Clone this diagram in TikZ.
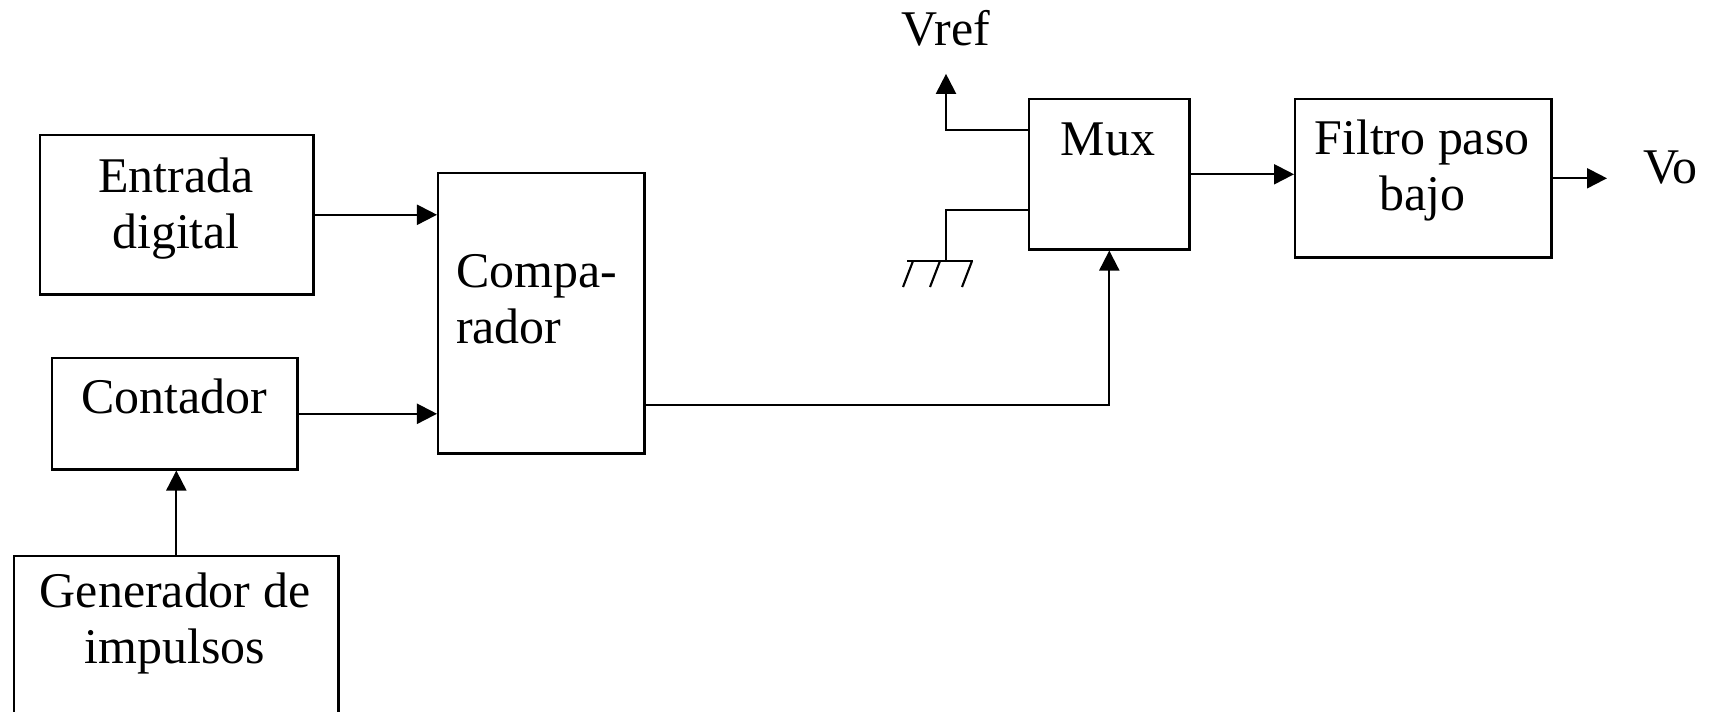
\documentclass[tikz,border=0pt]{standalone}
\usepackage{fontspec}
\setmainfont{Liberation Serif}
\usetikzlibrary{arrows.meta}

\begin{document}
\begin{tikzpicture}[x=0.01cm, y=-0.01cm, line width=0.6pt,
        blk/.style={draw, rectangle, line width=0.7pt, inner sep=0pt, anchor=north west},
        txt/.style={font=\fontsize{14.2}{15.8}\selectfont, inner sep=0pt, anchor=base, align=center},
        conn/.style={-{Triangle[length=0.2cm, width=0.2cm]}}]
        % Frame
        \clip (0,0) rectangle (1713,711);

        % Blocks
        \node[blk, minimum width=2.73cm, minimum height=1.59cm] (entrada) at (39,134) {};
        \node[blk, minimum width=2.45cm, minimum height=1.11cm] (contador) at (51,357) {};
        \node[blk, minimum width=3.24cm, minimum height=2.0cm] (generador) at (13,555) {};
        \node[blk, minimum width=2.06cm, minimum height=2.80cm] (comparador) at (437,172) {};
        \node[blk, minimum width=1.60cm, minimum height=1.50cm] (mux) at (1028,98) {};
        \node[blk, minimum width=2.56cm, minimum height=1.58cm] (filtro) at (1294,98) {};

        % Labels (base = last line)
        \node[txt] (entradaT) at (176,248) {Entrada\\digital};
        \node[txt] (contadorT) at (174,413) {Contador};
        \node[txt] (generadorT) at (175,663) {Generador de\\impulsos};
        \node[txt, align=left, anchor=base west] (comparadorT) at (455,343) {Compa-\\rador};
        \node[txt] (muxT) at (1108,155) {Mux};
        \node[txt] (filtroT) at (1422,210) {Filtro paso\\bajo};
        \node[txt] (vref) at (946,45) {Vref};
        \node[txt, anchor=base west] (vo) at (1642,183) {Vo};

        % Signal path
        \draw[conn] (entrada.east) -- (entrada.east -| comparador.west);
        \draw[conn] (contador.east) -- (contador.east -| comparador.west);
        \draw[conn] (generador.north) -- (generador.north |- contador.south);
        \draw[conn] (comparador.east |- 0,405) -| (mux.south);
        \draw[conn] (mux.east) -- (mux.east -| filtro.west);
        \draw[conn, shorten >=0.35cm] (filtro.east) -- (filtro.east -| vo.west);

        % Mux inputs: Vref and ground
        \draw[conn, shorten >=0.27cm] (mux.west |- 0,130) -| (vref.south);
        \coordinate (gnd) at (946,261);
        \draw (mux.west |- 0,210) -| (gnd);
        \draw (gnd) ++(-39,0) -- ++(66,0);
        \foreach \dx in {-33,-6,26}
            \draw (gnd) ++(\dx,0) -- ++(-10,26);
\end{tikzpicture}
\end{document}
